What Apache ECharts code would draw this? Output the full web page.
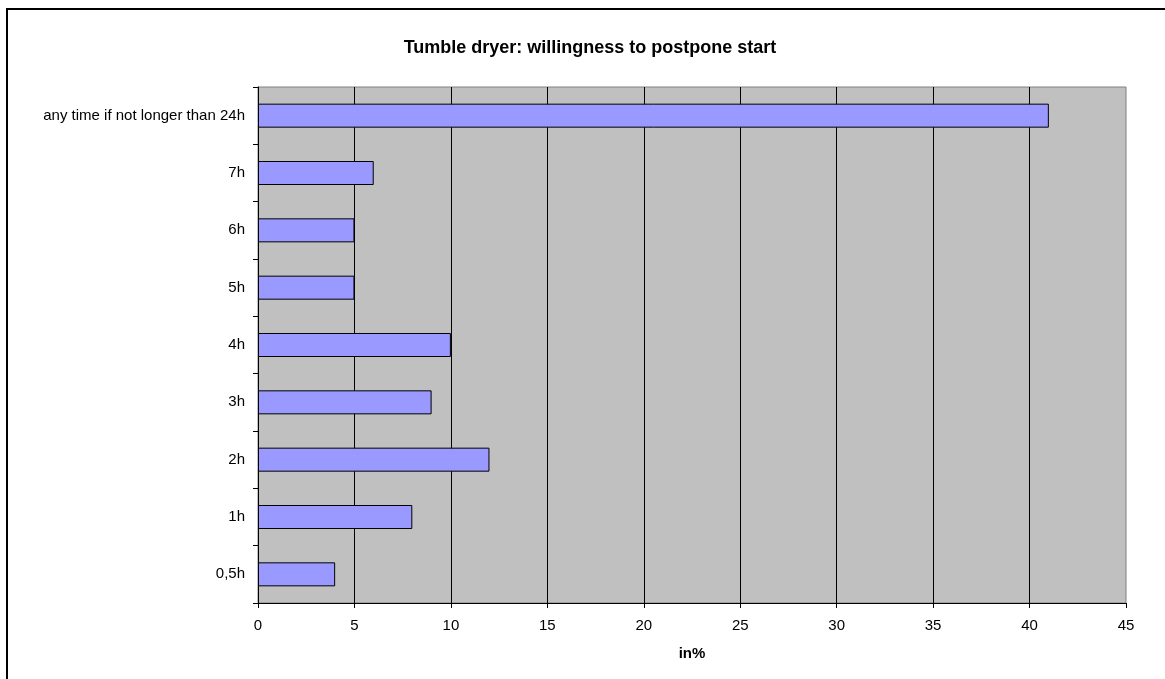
<!DOCTYPE html>
<html>
<head>
<meta charset="utf-8">
<script src="https://cdn.jsdelivr.net/npm/echarts@6/dist/echarts.min.js"></script>
<style>
  html, body { margin: 0; padding: 0; background: #fff; }
  #chart { width: 1165px; height: 679px; }
</style>
</head>
<body>
<div id="chart"></div>
<script>
// Postponement options, bottom to top
const categories = ['0,5h', '1h', '2h', '3h', '4h', '5h', '6h', '7h', 'any time if not longer than 24h'];
// Share of respondents, in percent
const shares = [4, 8, 12, 9, 10, 5, 5, 6, 41];
const xTicks = { min: 0, max: 45, interval: 5 };

const chart = echarts.init(document.getElementById('chart'), null, { renderer: 'canvas' });
const font = 'Liberation Sans, Arial, sans-serif';

chart.setOption({
  animation: false,
  backgroundColor: '#ffffff',
  title: {
    text: 'Tumble dryer: willingness to postpone start',
    left: 585,
    top: 34,
    textAlign: 'center',
    textStyle: { fontFamily: font, fontSize: 18, fontWeight: 'bold', color: '#000' }
  },
  graphic: [{
    type: 'rect',
    shape: { x: 7, y: 9, width: 1170, height: 690 },
    style: { fill: null, stroke: '#000', lineWidth: 2 },
    silent: true
  }],
  grid: {
    left: 258, right: 39, top: 87, bottom: 76,
    show: true,
    backgroundColor: '#c0c0c0',
    borderColor: '#808080',
    borderWidth: 1
  },
  xAxis: {
    type: 'value',
    min: xTicks.min, max: xTicks.max, interval: xTicks.interval,
    name: 'in%',
    nameLocation: 'middle',
    nameGap: 43,
    nameTextStyle: { fontFamily: font, fontSize: 15, fontWeight: 'bold', color: '#000' },
    axisLine: { show: true, lineStyle: { color: '#000', width: 1 } },
    axisTick: { show: true, length: 5, lineStyle: { color: '#000' } },
    axisLabel: { fontFamily: font, fontSize: 15, color: '#000', margin: 15 },
    splitLine: { show: true, showMinLine: false, showMaxLine: false, lineStyle: { color: '#000', width: 1 } }
  },
  yAxis: {
    type: 'category',
    data: categories,
    axisLine: { show: true, lineStyle: { color: '#000', width: 1 } },
    axisTick: { show: true, length: 5, alignWithLabel: false, lineStyle: { color: '#000' } },
    axisLabel: { fontFamily: font, fontSize: 15, color: '#000', margin: 13 },
    splitLine: { show: false }
  },
  series: [{
    type: 'bar',
    data: shares,
    barWidth: 24,
    itemStyle: { color: '#9999ff', borderColor: '#000', borderWidth: 1 }
  }]
});
</script>
</body>
</html>
